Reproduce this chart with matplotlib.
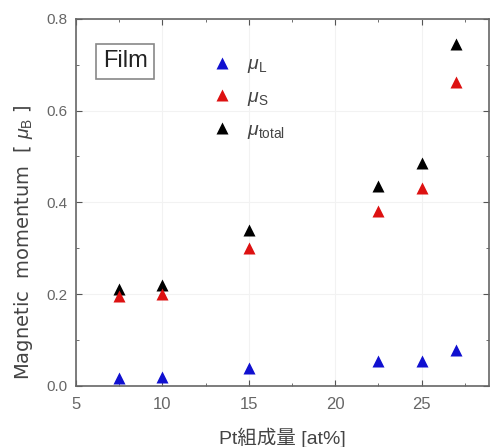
import numpy as np
import matplotlib
matplotlib.use("Agg")
import matplotlib.pyplot as plt
from matplotlib.ticker import MultipleLocator, FormatStrFormatter

plt.rcParams['font.family'] = ['Liberation Sans', 'Noto Sans CJK JP', 'DejaVu Sans']
plt.rcParams['mathtext.fontset'] = 'custom'
plt.rcParams['mathtext.rm'] = 'Liberation Sans'
plt.rcParams['mathtext.it'] = 'Liberation Sans:italic'

# Pt content (at%) and orbital / spin / total moments (mu_B)
pt = [7.5, 10, 15, 22.5, 25, 27]
mu_L = [0.017, 0.020, 0.039, 0.053, 0.053, 0.078]
mu_S = [0.195, 0.200, 0.300, 0.382, 0.432, 0.663]
mu_total = [0.210, 0.220, 0.340, 0.436, 0.486, 0.744]

fig = plt.figure(figsize=(4.91, 4.47), dpi=100)
ax = fig.add_axes([0.155, 0.137, 0.841, 0.821])

ms = 8.5
h_t, = ax.plot(pt, mu_total, '^', color='black', ms=ms, mec='none', zorder=3)
h_s, = ax.plot(pt, mu_S, '^', color='#dd1111', ms=ms, mec='none', zorder=4)
h_l, = ax.plot(pt, mu_L, '^', color='#1010d0', ms=ms, mec='none', zorder=5)

ax.set_xlim(5, 28.9)
ax.set_ylim(0, 0.8)
ax.xaxis.set_major_locator(MultipleLocator(5))
ax.xaxis.set_minor_locator(MultipleLocator(2.5))
ax.yaxis.set_major_locator(MultipleLocator(0.2))
ax.yaxis.set_minor_locator(MultipleLocator(0.1))
ax.yaxis.set_major_formatter(FormatStrFormatter('%.1f'))
ax.tick_params(which='both', direction='in', top=True, right=True,
               color='#555555', labelcolor='#666666')
ax.tick_params(axis='x', labelsize=12, pad=8)
ax.tick_params(axis='y', labelsize=11, pad=6)
ax.tick_params(which='major', length=4)
ax.tick_params(which='minor', length=2.5)
for s in ax.spines.values():
    s.set_color('#666666')
    s.set_linewidth(1.2)
ax.grid(True, which='major', color='#f2f2f2', lw=0.8)
ax.set_axisbelow(True)

ax.set_xlabel('Pt組成量 [at%]', fontsize=14, color='#444444')
ax.xaxis.set_label_coords(0.5, -0.113)
ax.set_ylabel(r'Magnetic  momentum  [ $\mu_{\rm B}$ ]', fontsize=14, color='#444444',
              family='DejaVu Sans')
ax.yaxis.set_label_coords(-0.10, 0.39)

ax.text(0.065, 0.868, 'Film', transform=ax.transAxes, fontsize=17, color='#222222',
        bbox=dict(boxstyle='square,pad=0.28', fc='white', ec='#888888', lw=1.2))

ax.legend([h_l, h_s, h_t],
          [r'$\mu_{\rm L}$', r'$\mu_{\rm S}$', r'$\mu_{\rm total}$'],
          loc='upper left', bbox_to_anchor=(0.283, 0.947), frameon=False,
          fontsize=14, handletextpad=0.7, labelspacing=0.68, labelcolor='#444444',
          handlelength=1.2)

fig.savefig('out.png', dpi=100)
